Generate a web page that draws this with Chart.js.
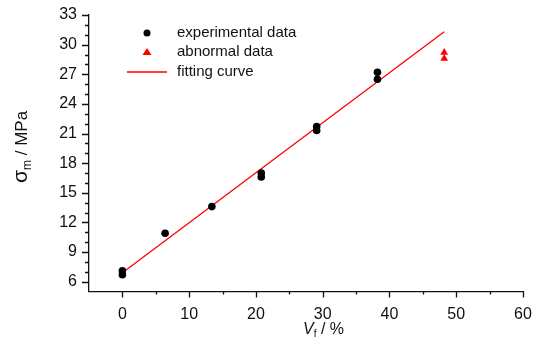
<!DOCTYPE html>
<html>
<head>
<meta charset="utf-8">
<script src="https://cdn.jsdelivr.net/npm/chart.js@4"></script>
<style>
  html, body { margin: 0; padding: 0; background: #fff; }
  #wrap { width: 534px; height: 340px; }
</style>
</head>
<body>
<div id="wrap"><canvas id="chart" width="534" height="340"></canvas></div>
<script>
// volume fraction (%) vs strength (MPa)
const expX = [0, 0, 6.4, 13.4, 20.8, 20.8, 29.1, 29.1, 38.2, 38.2];
const expY = [6.7, 7.1, 10.9, 13.6, 16.6, 17.0, 21.3, 21.7, 26.5, 27.2];
const abnX = [48.2, 48.2];
const abnY = [28.6, 29.2];
const fitX = [0, 48.2];
const fitY = [6.9, 31.3];

const xTicks = [0, 10, 20, 30, 40, 50, 60];
const yTicks = [6, 9, 12, 15, 18, 21, 24, 27, 30, 33];
const legendLabels = ['experimental data', 'abnormal data', 'fitting curve'];

const FONT = '"Liberation Sans", Arial, sans-serif';

const toPts = (xs, ys) => xs.map((x, i) => ({ x: x, y: ys[i] }));

// minor/major tick marks, drawn outward
const tickMarks = {
  id: 'tickMarks',
  afterDraw(chart) {
    const ctx = chart.ctx;
    const xs = chart.scales.x, ys = chart.scales.y;
    const area = chart.chartArea;
    ctx.save();
    ctx.strokeStyle = '#111';
    ctx.lineWidth = 1.3;
    ctx.beginPath();
    for (let v = 0; v <= 60; v += 5) {
      const px = Math.round(xs.getPixelForValue(v)) + 0.5;
      const len = v % 10 === 0 ? 6 : 3;
      ctx.moveTo(px, area.bottom);
      ctx.lineTo(px, area.bottom + len);
    }
    for (let v = 6; v <= 33; v += 1) {
      const py = Math.round(ys.getPixelForValue(v)) + 0.5;
      const len = v % 3 === 0 ? 7 : 4;
      ctx.moveTo(area.left, py);
      ctx.lineTo(area.left - len, py);
    }
    ctx.stroke();
    ctx.restore();
  }
};

// axis titles with subscripts + legend inside the plot
const decorations = {
  id: 'decorations',
  afterDraw(chart) {
    const ctx = chart.ctx;
    ctx.save();
    ctx.fillStyle = '#111';
    ctx.textBaseline = 'alphabetic';

    // y title: σm / MPa
    ctx.save();
    ctx.translate(27, 183);
    ctx.rotate(-Math.PI / 2);
    ctx.font = '21px ' + FONT;
    ctx.fillText('σ', 0, 0);
    let w = ctx.measureText('σ').width;
    ctx.font = '12px ' + FONT;
    ctx.fillText('m', w, 4);
    w += ctx.measureText('m').width;
    ctx.font = '17px ' + FONT;
    ctx.fillText(' / MPa', w, 0);
    ctx.restore();

    // x title: Vf / %
    let x = 303, y = 334;
    ctx.font = 'italic 16px ' + FONT;
    ctx.fillText('V', x, y);
    x += ctx.measureText('V').width;
    ctx.font = '10px ' + FONT;
    ctx.fillText('f', x, y + 3);
    x += ctx.measureText('f').width;
    ctx.font = '16px ' + FONT;
    ctx.fillText(' / %', x, y);

    // legend
    const mx = 147, tx = 177;
    const rows = [33, 52, 72];
    ctx.font = '15px ' + FONT;
    ctx.textBaseline = 'middle';
    legendLabels.forEach((t, i) => ctx.fillText(t, tx, rows[i]));
    ctx.fillStyle = '#000';
    ctx.beginPath();
    ctx.arc(mx, rows[0], 3.5, 0, Math.PI * 2);
    ctx.fill();
    ctx.fillStyle = '#ff0000';
    ctx.beginPath();
    ctx.moveTo(mx, rows[1] - 4);
    ctx.lineTo(mx + 4.5, rows[1] + 3);
    ctx.lineTo(mx - 4.5, rows[1] + 3);
    ctx.closePath();
    ctx.fill();
    ctx.strokeStyle = '#ff0000';
    ctx.lineWidth = 1.3;
    ctx.beginPath();
    ctx.moveTo(mx - 20, rows[2]);
    ctx.lineTo(mx + 20, rows[2]);
    ctx.stroke();
    ctx.restore();
  }
};

const ctx = document.getElementById('chart').getContext('2d');
new Chart(ctx, {
  type: 'scatter',
  data: {
    datasets: [
      {
        label: legendLabels[2],
        data: toPts(fitX, fitY),
        showLine: true,
        borderColor: '#ff0000',
        borderWidth: 1.3,
        pointRadius: 0,
        order: 3
      },
      {
        label: legendLabels[0],
        data: toPts(expX, expY),
        backgroundColor: '#000',
        borderColor: '#000',
        pointRadius: 3.8,
        borderWidth: 0,
        order: 1
      },
      {
        label: legendLabels[1],
        data: toPts(abnX, abnY),
        pointStyle: 'triangle',
        backgroundColor: '#ff0000',
        borderColor: '#ff0000',
        pointRadius: 4.5,
        borderWidth: 0,
        order: 2
      }
    ]
  },
  options: {
    responsive: false,
    animation: false,
    layout: { padding: { left: 0, top: 15, right: 11, bottom: 0 } },
    plugins: {
      legend: { display: false },
      tooltip: { enabled: false }
    },
    scales: {
      x: {
        type: 'linear',
        min: -5,
        max: 60,
        afterBuildTicks: s => { s.ticks = xTicks.map(v => ({ value: v })); },
        afterFit: s => { s.height = 48.5; s.paddingLeft = 0; s.paddingRight = 0; },
        grid: { display: false, drawTicks: false },
        border: { display: true, color: '#111', width: 1.3 },
        ticks: { color: '#111', padding: 13, maxRotation: 0, font: { family: FONT, size: 16 } }
      },
      y: {
        type: 'linear',
        min: 5,
        max: 33,
        afterBuildTicks: s => { s.ticks = yTicks.map(v => ({ value: v })); },
        afterFit: s => { s.width = 89; s.paddingTop = 0; s.paddingBottom = 0; },
        grid: { display: false, drawTicks: false },
        border: { display: true, color: '#111', width: 1.3 },
        ticks: { color: '#111', padding: 12, font: { family: FONT, size: 16 } }
      }
    }
  },
  plugins: [tickMarks, decorations]
});
</script>
</body>
</html>
